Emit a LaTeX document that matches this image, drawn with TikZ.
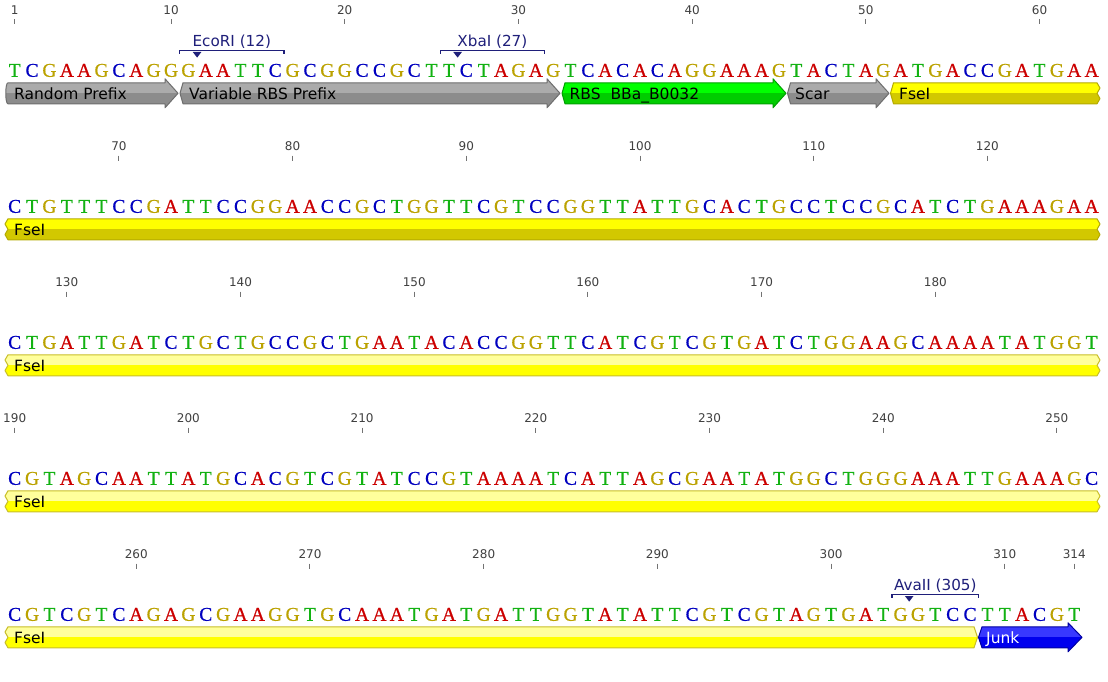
\documentclass[tikz,border=0pt]{standalone}
\usepackage{fontspec}
\setmainfont{Liberation Serif}
\newfontfamily\uifont{DejaVu Sans}
\newfontfamily\basefont[FakeBold=0.6]{Liberation Serif}
\definecolor{baseA}{HTML}{CC0000}
\definecolor{baseC}{HTML}{0000C0}
\definecolor{baseG}{HTML}{BBA200}
\definecolor{baseT}{HTML}{12B212}
\definecolor{enzcol}{HTML}{1F1F7A}
\definecolor{grayL}{HTML}{ABABAB}
\definecolor{grayD}{HTML}{8C8C8C}
\definecolor{grayE}{HTML}{6E6E6E}
\definecolor{ylwL}{HTML}{FFFF00}
\definecolor{ylwD}{HTML}{D2C800}
\definecolor{ylwE}{HTML}{B4AA00}
\definecolor{paleL}{HTML}{FFFF9C}
\definecolor{paleD}{HTML}{FFFF00}
\definecolor{paleE}{HTML}{C8BE28}
\definecolor{grnL}{HTML}{00FF00}
\definecolor{grnD}{HTML}{00CC00}
\definecolor{grnE}{HTML}{00A000}
\definecolor{bluL}{HTML}{3838FF}
\definecolor{bluD}{HTML}{0000EE}
\definecolor{bluE}{HTML}{0000A0}
\tikzset{
  base/.style={font=\basefont\fontsize{19.5}{19.5}\selectfont, inner sep=0pt, anchor=base},
  tnum/.style={font=\uifont\fontsize{12}{12}\selectfont, text=black!75, inner sep=0pt, anchor=base},
  tickmark/.style={draw=black!55, line width=1pt},
  enz/.style={font=\uifont\fontsize{15.2}{15.2}\selectfont, text=enzcol, inner sep=0pt, anchor=base},
  bracket/.style={draw=enzcol, line width=1.2pt},
  flabel/.style={font=\uifont\fontsize{15.5}{15.5}\selectfont, inner sep=0pt, anchor=base west},
}
\newcount\bcnt
\def\seqrow#1#2{%
  \global\bcnt=0
  \def\currow{#1}%
  \pgfmathsetmacro\rowbase{76.8+136*(#1-1)}%
  \doseq#2\relax}
\def\doseq#1{\ifx#1\relax\else
  \global\advance\bcnt by 1
  \pgfmathsetmacro\bx{14.7+(\the\bcnt-1)*17.37}%
  \edef\bname{b\currow-\the\bcnt}%
  \node[base,text=base#1] (\bname) at (\bx,\rowbase) {#1};%
  \expandafter\doseq\fi}
% feature: #1 path, #2 centre y, #3 light, #4 dark, #5 edge
\newcommand\feature[5]{%
  \begin{scope}
    \clip #1;
    \fill[#3] (0,#2-20) rectangle (1108,#2);
    \fill[#4] (0,#2) rectangle (1108,#2+20);
  \end{scope}
  \draw[#5, line width=1pt, line join=round] #1;
}
\begin{document}
\begin{tikzpicture}[x=1pt,y=-1pt]
\fill[white] (0,0) rectangle (1108,682);
\useasboundingbox (0,0) rectangle (1108,682);

% ---------- ruler ticks ----------
\foreach \r/\i/\lab in {1/1/1,1/10/10,1/20/20,1/30/30,1/40/40,1/50/50,1/60/60,
  2/7/70,2/17/80,2/27/90,2/37/100,2/47/110,2/57/120,
  3/4/130,3/14/140,3/24/150,3/34/160,3/44/170,3/54/180,
  4/1/190,4/11/200,4/21/210,4/31/220,4/41/230,4/51/240,4/61/250,
  5/8/260,5/18/270,5/28/280,5/38/290,5/48/300,5/58/310,5/62/314}{
  \pgfmathsetmacro\tx{14.7+(\i-1)*17.37}
  \pgfmathsetmacro\ty{136*(\r-1)}
  \node[tnum] (t\lab) at (\tx,14.8+\ty) {\lab};
  \draw[tickmark] (\tx,19.5+\ty) -- (\tx,24.5+\ty);
}

% ---------- features ----------
% row 1 (yc = 93.3)
\feature{(8,82.8) -- (165,82.8) -- (165,78.8) -- (178,93.3) -- (165,107.8) -- (165,103.8) -- (8,103.8) .. controls (5,103.8) and (5,82.8) .. (8,82.8) -- cycle}{93.3}{grayL}{grayD}{grayE}
\node[flabel] (fRandom) at (14,99.3) {Random Prefix};
\feature{(183,82.8) -- (547,82.8) -- (547,78.8) -- (560,93.3) -- (547,107.8) -- (547,103.8) -- (183,103.8) -- (180,93.3) -- cycle}{93.3}{grayL}{grayD}{grayE}
\node[flabel] (fVar) at (189,99.3) {Variable RBS Prefix};
\feature{(565,82.8) -- (773,82.8) -- (773,78.8) -- (786,93.3) -- (773,107.8) -- (773,103.8) -- (565,103.8) -- (562,93.3) -- cycle}{93.3}{grnL}{grnD}{grnE}
\node[flabel] (fRBS) at (569.5,99.3) {RBS\ \ BBa\_B0032};
\feature{(790.5,82.8) -- (876,82.8) -- (876,78.8) -- (889,93.3) -- (876,107.8) -- (876,103.8) -- (790.5,103.8) -- (787.5,93.3) -- cycle}{93.3}{grayL}{grayD}{grayE}
\node[flabel] (fScar) at (795,99.3) {Scar};
\feature{(893.5,82.8) -- (1097,82.8) -- (1100,88.05) -- (1097,93.3) -- (1100,98.55) -- (1097,103.8) -- (893.5,103.8) -- (890.5,93.3) -- cycle}{93.3}{ylwL}{ylwD}{ylwE}
\node[flabel] (fFse1) at (899,99.3) {FseI};
% rows 2-4
\feature{(8,218.8) -- (1097,218.8) -- (1100,224.05) -- (1097,229.3) -- (1100,234.55) -- (1097,239.8) -- (8,239.8) -- (5,234.55) -- (8,229.3) -- (5,224.05) -- cycle}{229.3}{ylwL}{ylwD}{ylwE}
\node[flabel] (fFse2) at (14,235.3) {FseI};
\feature{(8,354.8) -- (1097,354.8) -- (1100,360.05) -- (1097,365.3) -- (1100,370.55) -- (1097,375.8) -- (8,375.8) -- (5,370.55) -- (8,365.3) -- (5,360.05) -- cycle}{365.3}{paleL}{paleD}{paleE}
\node[flabel] (fFse3) at (14,371.3) {FseI};
\feature{(8,490.8) -- (1097,490.8) -- (1100,496.05) -- (1097,501.3) -- (1100,506.55) -- (1097,511.8) -- (8,511.8) -- (5,506.55) -- (8,501.3) -- (5,496.05) -- cycle}{501.3}{paleL}{paleD}{paleE}
\node[flabel] (fFse4) at (14,507.3) {FseI};
% row 5 (yc = 637.3)
\feature{(8,626.8) -- (974,626.8) -- (977.5,637.3) -- (974,647.8) -- (8,647.8) -- (5,642.55) -- (8,637.3) -- (5,632.05) -- cycle}{637.3}{paleL}{paleD}{paleE}
\node[flabel] (fFse5) at (14,643.3) {FseI};
\feature{(982,626.8) -- (1068,626.8) -- (1068,622.8) -- (1082,637.3) -- (1068,651.8) -- (1068,647.8) -- (982,647.8) -- (978.5,637.3) -- cycle}{637.3}{bluL}{bluD}{bluE}
\node[flabel, text=white] (fJunk) at (986,643.3) {Junk};

% ---------- restriction sites ----------
\node[enz] (ecori) at (231.8,46.5) {EcoRI (12)};
\draw[bracket] (179.7,53.8) -- (179.7,50.6) -- (283.9,50.6) -- (283.9,53.8);
\fill[enzcol] (192.8,52) -- (201.4,52) -- (197.1,57.6) -- cycle;

\node[enz] (xbai) at (492.4,46.5) {XbaI (27)};
\draw[bracket] (440.3,53.8) -- (440.3,50.6) -- (544.5,50.6) -- (544.5,53.8);
\fill[enzcol] (453.3,52) -- (461.9,52) -- (457.6,57.6) -- cycle;

\node[enz] (avaii) at (935.3,590.5) {AvaII (305)};
\draw[bracket] (891.9,597.8) -- (891.9,594.6) -- (978.7,594.6) -- (978.7,597.8);
\fill[enzcol] (904.9,596) -- (913.5,596) -- (909.2,601.6) -- cycle;

% ---------- sequence ----------
\seqrow{1}{TCGAAGCAGGGAATTCGCGGCCGCTTCTAGAGTCACACAGGAAAGTACTAGATGACCGATGAA}
\seqrow{2}{CTGTTTCCGATTCCGGAACCGCTGGTTCGTCCGGTTATTGCACTGCCTCCGCATCTGAAAGAA}
\seqrow{3}{CTGATTGATCTGCTGCCGCTGAATACACCGGTTCATCGTCGTGATCTGGAAGCAAAATATGGT}
\seqrow{4}{CGTAGCAATTATGCACGTCGTATCCGTAAAATCATTAGCGAATATGGCTGGGAAATTGAAAGC}
\seqrow{5}{CGTCGTCAGAGCGAAGGTGCAAATGATGATTGGTATATTCGTCGTAGTGATGGTCCTTACGT}
\end{tikzpicture}
\end{document}
